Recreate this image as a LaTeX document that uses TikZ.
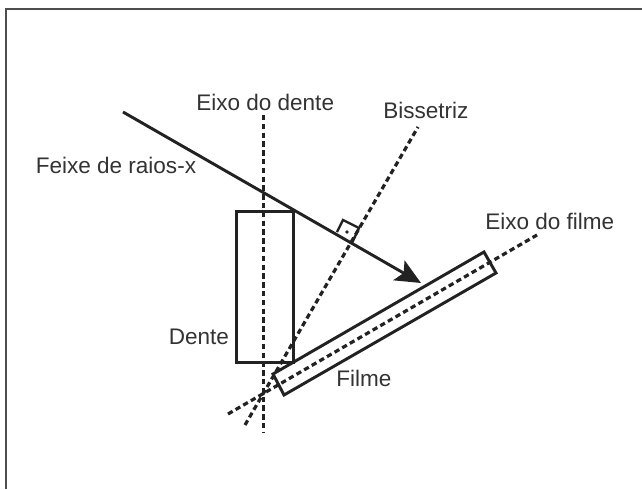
\documentclass[tikz,border=0pt]{standalone}
\usepackage{fontspec}
\setmainfont{Liberation Sans}
\usetikzlibrary{arrows.meta}
\definecolor{ink}{HTML}{222222}
\definecolor{txt}{HTML}{333333}
\tikzset{x=0.75pt,y=-0.75pt,
 solidline/.style={draw=ink,line width=2.2pt},
 dashline/.style={draw=ink,line width=2.4pt,dash pattern=on 4pt off 2.6pt},
 lab/.style={text=txt,font=\fontsize{16.9}{19}\selectfont,inner sep=0pt,anchor=base west}}
\begin{document}
\begin{tikzpicture}
\useasboundingbox (0,0) rectangle (642,489);
\fill[white] (0,0) rectangle (642,489);
\coordinate (fa) at (6,489); \coordinate (fb) at (6,9); \coordinate (fc) at (642,9);
\draw[draw=ink!80,line width=1.2pt] (fa) -- (fb) -- (fc);
% axes
\coordinate (e1) at (263.5,115); \coordinate (e2) at (263.5,432);
\draw[dashline] (e1) -- (e2);
\coordinate (b1) at (245,425); \coordinate (b2) at (418,127);
\draw[dashline] (b1) -- (b2);
% film
\coordinate (c1) at (273,374); \coordinate (c2) at (284,395); \coordinate (c3) at (496,273); \coordinate (c4) at (484,252);
\draw[solidline,fill=white] (c1) -- (c2) -- (c3) -- (c4) -- cycle;
\coordinate (f1) at (228,414); \coordinate (f2) at (537,235);
\draw[dashline] (f1) -- (f2);
% tooth
\node[solidline,minimum width=43pt,minimum height=113.5pt,inner sep=0pt,outer sep=0pt,anchor=north west] (dente) at (236.5,211.5) {};
% beam
\coordinate (r1) at (123,112); \coordinate (r2) at (421,283);
\draw[solidline,-{Stealth[length=19pt,width=17pt,inset=4pt]}] (r1) -- (r2);
% right angle
\coordinate (m1) at (337,232); \coordinate (m2) at (343,220); \coordinate (m3) at (359,228); \coordinate (m4) at (352,243);
\draw[draw=ink,line width=1.8pt] (m1) -- (m2) -- (m3) -- (m4);
\fill[ink] (347,232) circle (1.8);
% labels
\node[lab] (t1) at (35.5,173) {Feixe de raios-x};
\node[lab] (t2) at (196,110) {Eixo do dente};
\node[lab] (t3) at (383,118) {Bissetriz};
\node[lab] (t4) at (485,229) {Eixo do filme};
\node[lab] (t5) at (168.5,344) {Dente};
\node[lab] (t6) at (336,386) {Filme};
\end{tikzpicture}
\end{document}
